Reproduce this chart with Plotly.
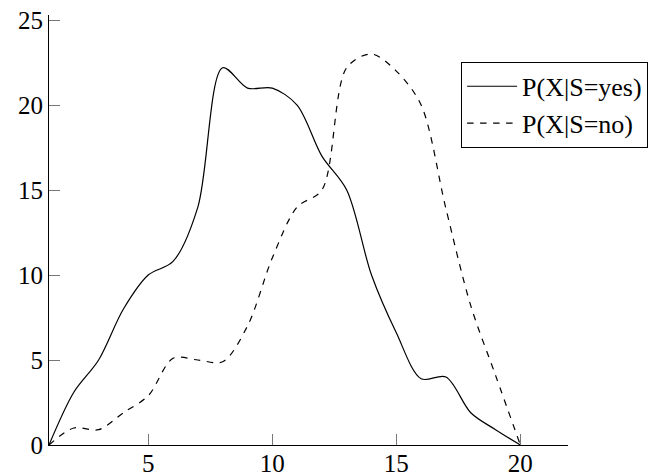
import plotly.graph_objects as go

x_vals = list(range(1, 21))
yes_vals = [0, 3.1, 5.0, 8.0, 10.0, 10.8, 14.0, 22.2, 21.0, 21.0, 20.0, 17.0, 15.0, 10.0, 6.6, 3.9, 4.0, 1.9, 0.9, 0]
no_vals = [0, 1.0, 0.9, 1.9, 2.9, 5.1, 5.0, 4.9, 7.0, 11.0, 14.0, 15.0, 22.2, 23.0, 22.0, 20.0, 13.9, 8.2, 4.1, 0]
names = ["P(X|S=yes)", "P(X|S=no)"]
x_ticks = [5, 10, 15, 20]
y_ticks = [0, 5, 10, 15, 20, 25]

FONT = "Liberation Serif"

fig = go.Figure()
fig.add_trace(go.Scatter(x=x_vals, y=yes_vals, mode="lines", name=names[0],
                         line=dict(color="black", width=1.2, shape="spline", smoothing=0.9)))
fig.add_trace(go.Scatter(x=x_vals, y=no_vals, mode="lines", name=names[1],
                         line=dict(color="black", width=1.2, shape="spline", smoothing=0.9,
                                   dash="6.5px,6.5px")))

fig.update_layout(
    width=659, height=476,
    margin=dict(l=49, r=91, t=15, b=31, autoexpand=False),
    paper_bgcolor="white", plot_bgcolor="white",
    font=dict(family=FONT, size=25, color="black"),
    showlegend=True,
    legend=dict(x=0.794, y=0.891, xanchor="left", yanchor="top",
                bordercolor="black", borderwidth=1, bgcolor="white",
                font=dict(family=FONT, size=26), itemwidth=50,
                entrywidth=210, entrywidthmode="pixels",
                tracegroupgap=0),
    xaxis=dict(range=[1, 21.92], tickvals=x_ticks, ticks="inside", ticklen=11,
               tickcolor="#777", tickwidth=1, showgrid=False, zeroline=False,
               showline=True, linecolor="black", linewidth=1, mirror=False,
               ticklabelstandoff=-4),
    yaxis=dict(range=[0, 25.3], tickvals=y_ticks, ticks="inside", ticklen=11,
               tickcolor="#777", tickwidth=1, showgrid=False, zeroline=False,
               showline=True, linecolor="black", linewidth=1, mirror=False),
)

fig.write_html("out.html", config={"displayModeBar": False},
               post_script="document.body.style.margin='0';")
